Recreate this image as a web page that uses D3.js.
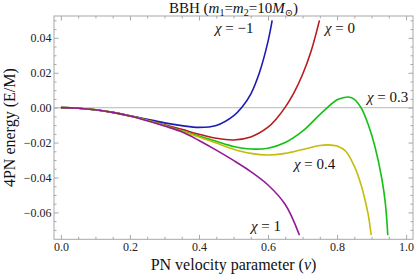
<!DOCTYPE html>
<html><head><meta charset="utf-8">
<script src="https://cdn.jsdelivr.net/npm/d3@7"></script>
<style>
html,body{margin:0;padding:0;background:#fff;}
svg{display:block;}
svg text{font-family:"Liberation Serif","Tinos","Times New Roman",Times,"DejaVu Serif",serif;}
</style>
</head><body>
<svg id="c" width="415" height="275"></svg>
<script>
// ---- data ----
const chiValues = [-1, 0, 0.3, 0.4, 1];
const chiNames = ["\u03c7 = \u22121", "\u03c7 = 0", "\u03c7 = 0.3", "\u03c7 = 0.4", "\u03c7 = 1"];
const seriesColors = ["#1c1cb4", "#b81c1c", "#14c014", "#c4bc0a", "#951a95"];

const vBlue   = [0, 0.05, 0.1, 0.15, 0.2, 0.25, 0.3, 0.35, 0.4, 0.45, 0.5, 0.525, 0.55, 0.575, 0.6, 0.612];
const eBlue   = [0, -0.0003, -0.0012, -0.0027, -0.0046, -0.0066, -0.0087, -0.0103, -0.0113, -0.0102, -0.0047, 0.0004, 0.0078, 0.0200, 0.0380, 0.05];

const vRed    = [0, 0.05, 0.1, 0.15, 0.2, 0.25, 0.3, 0.35, 0.4, 0.45, 0.5, 0.55, 0.6, 0.625, 0.65, 0.675, 0.7, 0.725, 0.749];
const eRed    = [0, -0.0003, -0.0012, -0.0027, -0.0047, -0.0071, -0.0098, -0.0124, -0.0152, -0.0175, -0.0185, -0.0168, -0.0112, -0.0062, 0.0003, 0.0085, 0.0190, 0.0325, 0.05];

const vGreen  = [0, 0.05, 0.1, 0.15, 0.2, 0.25, 0.3, 0.35, 0.4, 0.45, 0.5, 0.55, 0.6, 0.65, 0.7, 0.75, 0.8, 0.82, 0.833, 0.85, 0.87, 0.89, 0.91, 0.93, 0.94, 0.947];
const eGreen  = [0, -0.0003, -0.0012, -0.0027, -0.0048, -0.0072, -0.0101, -0.0132, -0.0163, -0.0193, -0.0222, -0.0237, -0.0232, -0.0200, -0.0135, -0.0040, 0.0045, 0.0058, 0.0061, 0.0048, -0.0002, -0.0095, -0.0225, -0.0410, -0.0550, -0.073];

const vYellow = [0, 0.05, 0.1, 0.15, 0.2, 0.25, 0.3, 0.35, 0.4, 0.45, 0.5, 0.55, 0.6, 0.65, 0.7, 0.75, 0.775, 0.8, 0.825, 0.85, 0.86, 0.87, 0.88, 0.89, 0.899];
const eYellow = [0, -0.0003, -0.0012, -0.0027, -0.0048, -0.0073, -0.0103, -0.0135, -0.0168, -0.0203, -0.0238, -0.0262, -0.0271, -0.0262, -0.0240, -0.0217, -0.0213, -0.0220, -0.0250, -0.0335, -0.0385, -0.0445, -0.0520, -0.0610, -0.073];

const vPurple = [0, 0.05, 0.1, 0.15, 0.2, 0.25, 0.3, 0.35, 0.4, 0.45, 0.5, 0.55, 0.6, 0.65, 0.691];
const ePurple = [0, -0.0003, -0.0012, -0.0027, -0.0048, -0.0075, -0.0105, -0.0138, -0.0188, -0.0243, -0.0302, -0.0366, -0.0443, -0.0555, -0.073];

const xTickValues = [0, 0.2, 0.4, 0.6, 0.8, 1.0];
const yTickValues = [-0.06, -0.04, -0.02, 0, 0.02, 0.04];

const titleText = "BBH";
const xLabel = "PN velocity parameter";
const yLabel = "4PN energy (E/M)";

// ---- drawing ----
const vSeries = [vBlue, vRed, vGreen, vYellow, vPurple];
const eSeries = [eBlue, eRed, eGreen, eYellow, ePurple];
const series = chiValues.map((c, i) => ({
  chi: c, name: chiNames[i], color: seriesColors[i],
  pts: vSeries[i].map((v, j) => [v, eSeries[i][j]])
}));

const svg = d3.select("#c");
const L = 54, R = 413, T = 16, B = 239.3;
const x = d3.scaleLinear().domain([-0.02, 1.02]).range([L, R]);
const y = d3.scaleLinear().domain([-0.0754, 0.0525]).range([B, T]);
const frameCol = "#a8a8a8";

// zero line
svg.append("line").attr("x1", L).attr("x2", R).attr("y1", y(0)).attr("y2", y(0))
  .attr("stroke", "#c6c6c6").attr("stroke-width", 1.3);

// curves
svg.append("defs").append("clipPath").attr("id", "clip").append("rect")
  .attr("x", L).attr("y", T).attr("width", R - L).attr("height", B - T);
const line = d3.line().x(d => x(d[0])).y(d => y(d[1])).curve(d3.curveCatmullRom.alpha(0.5));
svg.append("g").attr("clip-path", "url(#clip)").selectAll("path").data(series).join("path")
  .attr("d", d => line(d.pts)).attr("fill", "none").attr("stroke", d => d.color)
  .attr("stroke-width", 1.6).attr("stroke-linejoin", "round");

// axes with inward ticks on all sides
const xMinor = d3.range(0, 1.0001, 0.05).filter(v => !xTickValues.some(t => Math.abs(t - v) < 1e-9));
const yMinor = d3.range(-0.07, 0.05001, 0.005).filter(v => !yTickValues.some(t => Math.abs(t - v) < 1e-9));
function styleAxis(g) {
  g.attr("font-family", null);
  g.select(".domain").remove();
  g.selectAll(".tick line").attr("stroke", frameCol).attr("stroke-width", 1);
  g.selectAll(".tick text").attr("font-size", 12).attr("fill", "#222");
}
const fmtX = d3.format(".1f"), fmtY = d3.format(".2f");
svg.append("g").attr("transform", `translate(0,${B})`)
  .call(d3.axisBottom(x).tickValues(xTickValues).tickFormat(fmtX).tickSizeInner(-4.5).tickSizeOuter(0).tickPadding(3))
  .call(styleAxis);
svg.append("g").attr("transform", `translate(0,${B})`)
  .call(d3.axisBottom(x).tickValues(xMinor).tickFormat("").tickSizeInner(-2.5).tickSizeOuter(0)).call(styleAxis);
svg.append("g").attr("transform", `translate(0,${T})`)
  .call(d3.axisTop(x).tickValues(xTickValues).tickFormat("").tickSizeInner(-4.5).tickSizeOuter(0)).call(styleAxis);
svg.append("g").attr("transform", `translate(0,${T})`)
  .call(d3.axisTop(x).tickValues(xMinor).tickFormat("").tickSizeInner(-2.5).tickSizeOuter(0)).call(styleAxis);
svg.append("g").attr("transform", `translate(${L},0)`)
  .call(d3.axisLeft(y).tickValues(yTickValues).tickFormat(fmtY).tickSizeInner(-4.5).tickSizeOuter(0).tickPadding(2.5))
  .call(styleAxis);
svg.append("g").attr("transform", `translate(${L},0)`)
  .call(d3.axisLeft(y).tickValues(yMinor).tickFormat("").tickSizeInner(-2.5).tickSizeOuter(0)).call(styleAxis);
svg.append("g").attr("transform", `translate(${R},0)`)
  .call(d3.axisRight(y).tickValues(yTickValues).tickFormat("").tickSizeInner(-4.5).tickSizeOuter(0)).call(styleAxis);
svg.append("g").attr("transform", `translate(${R},0)`)
  .call(d3.axisRight(y).tickValues(yMinor).tickFormat("").tickSizeInner(-2.5).tickSizeOuter(0)).call(styleAxis);

// frame
svg.append("rect").attr("x", L).attr("y", T).attr("width", R - L).attr("height", B - T)
  .attr("fill", "none").attr("stroke", frameCol).attr("stroke-width", 1);

// title
const title = svg.append("text").attr("x", (L + R) / 2).attr("y", 13).attr("text-anchor", "middle")
  .attr("font-size", 15).attr("fill", "#111");
title.append("tspan").text(titleText + " (");
title.append("tspan").attr("font-style", "italic").text("m");
title.append("tspan").attr("font-size", 10).attr("dy", 3).text("1");
title.append("tspan").attr("dy", -3).text("=");
title.append("tspan").attr("font-style", "italic").text("m");
title.append("tspan").attr("font-size", 10).attr("dy", 3).text("2");
title.append("tspan").attr("dy", -3).text("=10");
title.append("tspan").attr("font-style", "italic").text("M");
title.append("tspan").attr("font-size", 10).attr("dy", 3).text("\u2299");
title.append("tspan").attr("dy", -3).text(")");

// axis labels
const xl = svg.append("text").attr("x", (L + R) / 2).attr("y", 270).attr("text-anchor", "middle")
  .attr("font-size", 16).attr("fill", "#111");
xl.append("tspan").text(xLabel + " (");
xl.append("tspan").attr("font-style", "italic").text("v");
xl.append("tspan").text(")");
svg.append("text").attr("transform", `translate(15,${(T + B) / 2}) rotate(-90)`).attr("text-anchor", "middle")
  .attr("font-size", 16).attr("fill", "#111").text(yLabel);

// curve labels
const labelPos = [[215, 33], [325, 33], [367, 102], [294, 169], [251, 231]];
series.forEach((s, i) => {
  const t = svg.append("text").attr("x", labelPos[i][0]).attr("y", labelPos[i][1])
    .attr("font-size", 15).attr("fill", "#111");
  const parts = s.name.split(" = ");
  t.append("tspan").attr("font-style", "italic").text(parts[0]);
  t.append("tspan").text(" = " + parts[1]);
});
</script>
</body></html>
